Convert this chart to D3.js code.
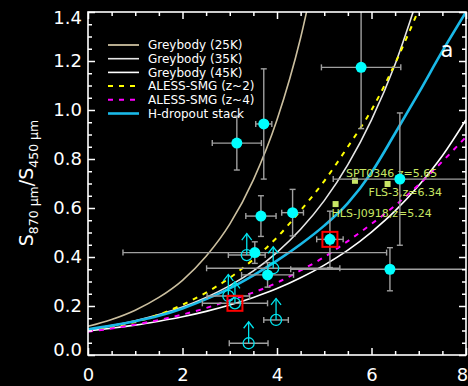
<!DOCTYPE html>
<html><head><meta charset="utf-8">
<script src="https://cdn.jsdelivr.net/npm/d3@7"></script>
<style>html,body{margin:0;padding:0;background:#000;} svg{display:block}</style>
</head><body><svg id="c" width="468" height="386"></svg>
<script>
// ---------------- data ----------------
const xTicks = [0, 2, 4, 6, 8];
const xTickLabels = ["0", "2", "4", "6", "8"];
const yTicks = [0, 0.2, 0.4, 0.6, 0.8, 1.0, 1.2, 1.4];
const yTickLabels = ["0.0", "0.2", "0.4", "0.6", "0.8", "1.0", "1.2", "1.4"];

const grey25X = [0, 0.5, 1, 1.5, 2, 2.5, 3, 3.5, 4, 4.5, 5];
const grey25Y = [0.117, 0.145, 0.183, 0.235, 0.305, 0.403, 0.534, 0.715, 0.96, 1.295, 1.75];
const grey35X = [0, 0.5, 1, 1.5, 2, 2.5, 3, 3.5, 4, 4.5, 5, 5.5, 6, 6.5, 7];
const grey35Y = [0.1045, 0.120, 0.140, 0.165, 0.196, 0.235, 0.283, 0.343, 0.419, 0.513, 0.630, 0.777, 0.960, 1.187, 1.471];
const grey45X = [0, 0.5, 1, 1.5, 2, 2.5, 3, 3.5, 4, 4.5, 5, 5.5, 6, 6.5, 7, 7.5, 8];
const grey45Y = [0.0986, 0.1095, 0.122, 0.138, 0.156, 0.178, 0.204, 0.235, 0.271, 0.315, 0.367, 0.428, 0.502, 0.588, 0.692, 0.813, 0.960];
const alessZ2X = [0, 0.5, 1, 1.5, 2, 2.5, 3, 3.5, 4, 4.5, 5, 5.5, 6, 6.5, 7];
const alessZ2Y = [0.10, 0.115, 0.135, 0.165, 0.205, 0.255, 0.315, 0.39, 0.48, 0.59, 0.71, 0.85, 1.0, 1.19, 1.41];
const alessZ4X = [0, 0.5, 1, 1.5, 2, 2.5, 3, 3.5, 4, 4.5, 5, 5.5, 6, 6.5, 7, 7.5, 8];
const alessZ4Y = [0.095, 0.108, 0.124, 0.143, 0.165, 0.192, 0.224, 0.255, 0.295, 0.345, 0.40, 0.465, 0.535, 0.61, 0.695, 0.79, 0.89];
const stackX = [0, 0.5, 1, 1.5, 2, 2.5, 3, 3.5, 4, 4.5, 5, 5.5, 6, 6.5, 7, 7.5, 8];
const stackY = [0.105, 0.12, 0.138, 0.16, 0.19, 0.228, 0.272, 0.325, 0.385, 0.452, 0.528, 0.62, 0.745, 0.905, 1.07, 1.24, 1.40];

// detections (filled circles)
const detX = [3.72, 3.15, 5.78, 6.60, 4.33, 3.66, 3.53, 3.80, 5.12, 6.39];
const detY = [0.943, 0.865, 1.174, 0.718, 0.581, 0.567, 0.418, 0.327, 0.472, 0.350];
const detXErr = [0.17, 0.52, 0.84, 1.41, 0.23, 0.32, 2.79, 0.55, 0.28, 2.10];
const detYErr = [0.225, 0.11, 0.25, 0.27, 0.095, 0.083, 0.044, 0.05, 0.115, 0.088];
const detBoxed = [false, false, false, false, false, false, false, false, true, false];

// lower limits (open circles with arrows)
const limX = [3.36, 3.92, 2.97, 3.11, 3.40, 3.98];
const limY = [0.408, 0.354, 0.241, 0.211, 0.048, 0.143];
const limXErr = [0.39, 1.41, 0.45, 0.69, 0.41, 0.26];
const limBoxed = [false, false, false, true, false, false];

// literature sources
const litX = [5.65, 6.34, 5.24];
const litY = [0.711, 0.698, 0.616];
const litLabels = ["SPT0346,z=5.65", "FLS-3,z=6.34", "HLS-J0918,z=5.24"];

const legendLabels = ["Greybody (25K)", "Greybody (35K)", "Greybody (45K)", "ALESS-SMG (z~2)", "ALESS-SMG (z~4)", "H-dropout stack"];

// ---------------- drawing ----------------
const W = 468, H = 386;
const FONT = "DejaVu Sans, Liberation Sans, sans-serif";
const svg = d3.select("#c");
svg.append("rect").attr("width", W).attr("height", H).attr("fill", "#000");

const x = d3.scaleLinear().domain([0, 8]).range([88, 466]);
const y = d3.scaleLinear().domain([0, 1.4]).range([355, 12]);

svg.append("clipPath").attr("id", "clip").append("rect")
  .attr("x", 88).attr("y", 12).attr("width", 378).attr("height", 343);

const plot = svg.append("g").attr("clip-path", "url(#clip)");

const series = [
  { xs: grey25X, ys: grey25Y, color: "#cbbf9f", w: 1.6, dash: null },
  { xs: grey35X, ys: grey35Y, color: "#e6e6e6", w: 1.6, dash: null },
  { xs: grey45X, ys: grey45Y, color: "#ffffff", w: 1.6, dash: null },
  { xs: alessZ2X, ys: alessZ2Y, color: "#ffff00", w: 2, dash: "5,6" },
  { xs: alessZ4X, ys: alessZ4Y, color: "#ff00ff", w: 2, dash: "5,6" },
  { xs: stackX, ys: stackY, color: "#1ab9e8", w: 2.6, dash: null }
];

const line = d3.line().x(d => x(d[0])).y(d => y(d[1])).curve(d3.curveMonotoneX);
series.forEach(s => {
  plot.append("path")
    .attr("d", line(s.xs.map((v, i) => [v, s.ys[i]])))
    .attr("fill", "none").attr("stroke", s.color).attr("stroke-width", s.w)
    .attr("stroke-dasharray", s.dash);
});

// literature squares + labels
const litDx = [-9, -19, -4], litDy = [-8, 8, 9];
litX.forEach((v, i) => {
  plot.append("rect").attr("x", x(v) - 3).attr("y", y(litY[i]) - 3)
    .attr("width", 6).attr("height", 6).attr("fill", "#c8e664");
  plot.append("text").attr("x", x(v) + litDx[i]).attr("y", y(litY[i]) + litDy[i])
    .attr("dy", "0.35em").attr("fill", "#c8e664")
    .attr("font-family", FONT).attr("font-size", 11).text(litLabels[i]);
});

const EB = "#a0a0a0", CAP = 3;
function hbar(g, cx, cy, e) {
  const x0 = x(cx - e), x1 = x(cx + e), py = y(cy);
  g.append("line").attr("x1", x0).attr("x2", x1).attr("y1", py).attr("y2", py);
  g.append("line").attr("x1", x0).attr("x2", x0).attr("y1", py - CAP).attr("y2", py + CAP);
  g.append("line").attr("x1", x1).attr("x2", x1).attr("y1", py - CAP).attr("y2", py + CAP);
}
function vbar(g, cx, cy, e) {
  const y0 = y(cy - e), y1 = y(cy + e), px = x(cx);
  g.append("line").attr("x1", px).attr("x2", px).attr("y1", y0).attr("y2", y1);
  g.append("line").attr("x1", px - CAP).attr("x2", px + CAP).attr("y1", y0).attr("y2", y0);
  g.append("line").attr("x1", px - CAP).attr("x2", px + CAP).attr("y1", y1).attr("y2", y1);
}

const eg = plot.append("g").attr("stroke", EB).attr("stroke-width", 1.4);
limX.forEach((v, i) => hbar(eg, v, limY[i], limXErr[i]));
detX.forEach((v, i) => { hbar(eg, v, detY[i], detXErr[i]); vbar(eg, v, detY[i], detYErr[i]); });

// lower limits
const lg = plot.append("g").attr("stroke", "#00e5f0").attr("stroke-width", 1.3).attr("fill", "none");
limX.forEach((v, i) => {
  const px = x(v), py = y(limY[i]);
  lg.append("circle").attr("cx", px).attr("cy", py).attr("r", 5.5);
  lg.append("line").attr("x1", px).attr("x2", px).attr("y1", py).attr("y2", py - 21.5);
  lg.append("polyline").attr("points", `${px - 5},${py - 15} ${px},${py - 21.5} ${px + 5},${py - 15}`);
  if (limBoxed[i]) {
    plot.append("rect").attr("x", px - 7.5).attr("y", py - 7.5).attr("width", 15).attr("height", 15)
      .attr("fill", "none").attr("stroke", "#ff0000").attr("stroke-width", 2);
  }
});

// detections
detX.forEach((v, i) => {
  const px = x(v), py = y(detY[i]);
  if (detBoxed[i]) {
    plot.append("rect").attr("x", px - 7.5).attr("y", py - 7.5).attr("width", 15).attr("height", 15)
      .attr("fill", "none").attr("stroke", "#ff0000").attr("stroke-width", 2);
  }
  plot.append("circle").attr("cx", px).attr("cy", py).attr("r", 5.5).attr("fill", "#00ffff");
});

// axes
function styleAxis(g) {
  g.select(".domain").remove();
  g.selectAll(".tick line").attr("stroke", "#fff").attr("stroke-width", 1.5);
  g.selectAll(".tick text").attr("fill", "#fff").attr("font-family", FONT).attr("font-size", 18);
}
const xMinor = d3.range(0, 8.01, 0.5).filter(v => Math.abs(v % 2) > 1e-6);
const yMinor = d3.range(0, 1.401, 0.05).map(v => +v.toFixed(2)).filter(v => Math.abs((v * 100) % 20) > 1e-6);

const xAx = svg.append("g").attr("transform", "translate(0,355)")
  .call(d3.axisBottom(x).tickValues(xTicks).tickFormat((d, i) => xTickLabels[i]).tickSizeInner(-7).tickSizeOuter(0).tickPadding(13.5))
  .call(styleAxis);
xAx.selectAll(".tick text").attr("transform", d => d === 8 ? "translate(-4,0)" : null);
svg.append("g").attr("transform", "translate(0,355)")
  .call(d3.axisBottom(x).tickValues(xMinor).tickFormat("").tickSizeInner(-4).tickSizeOuter(0)).call(styleAxis);
svg.append("g").attr("transform", "translate(0,12)")
  .call(d3.axisTop(x).tickValues(xTicks).tickFormat("").tickSizeInner(-7).tickSizeOuter(0)).call(styleAxis);
svg.append("g").attr("transform", "translate(0,12)")
  .call(d3.axisTop(x).tickValues(xMinor).tickFormat("").tickSizeInner(-4).tickSizeOuter(0)).call(styleAxis);

const yAx = svg.append("g").attr("transform", "translate(88,0)")
  .call(d3.axisLeft(y).tickValues(yTicks).tickFormat((d, i) => yTickLabels[i]).tickSizeInner(-7).tickSizeOuter(0).tickPadding(6))
  .call(styleAxis);
yAx.selectAll(".tick text").attr("transform", d => d === 1.4 ? "translate(0,6)" : (d === 0 ? "translate(0,-5)" : null));
svg.append("g").attr("transform", "translate(88,0)")
  .call(d3.axisLeft(y).tickValues(yMinor).tickFormat("").tickSizeInner(-4).tickSizeOuter(0)).call(styleAxis);
svg.append("g").attr("transform", "translate(466,0)")
  .call(d3.axisRight(y).tickValues(yTicks).tickFormat("").tickSizeInner(-7).tickSizeOuter(0)).call(styleAxis);
svg.append("g").attr("transform", "translate(466,0)")
  .call(d3.axisRight(y).tickValues(yMinor).tickFormat("").tickSizeInner(-4).tickSizeOuter(0)).call(styleAxis);

svg.append("rect").attr("x", 88).attr("y", 12).attr("width", 378).attr("height", 343)
  .attr("fill", "none").attr("stroke", "#fff").attr("stroke-width", 1.6);

// y axis title
const yt = svg.append("text").attr("transform", "translate(33,183) rotate(-90)")
  .attr("text-anchor", "middle").attr("fill", "#fff").attr("font-family", FONT).attr("font-size", 19);
yt.append("tspan").text("S");
yt.append("tspan").attr("font-size", 12.5).attr("dy", 5).text("870 \u03bcm");
yt.append("tspan").attr("dy", -5).text("/S");
yt.append("tspan").attr("font-size", 12.5).attr("dy", 5).text("450 \u03bcm");

// panel letter
svg.append("text").attr("x", 447).attr("y", 50).attr("dy", "0.35em").attr("text-anchor", "middle")
  .attr("fill", "#fff").attr("font-family", FONT).attr("font-size", 21).text("a");

// legend
const legColors = ["#cbbf9f", "#e6e6e6", "#ffffff", "#ffff00", "#ff00ff", "#1ab9e8"];
const legDash = [null, null, null, "5,6", "5,6", null];
const legW = [1.8, 1.6, 1.6, 2, 2, 2.6];
legendLabels.forEach((t, i) => {
  const ly = 45 + i * 13.7;
  svg.append("line").attr("x1", 108).attr("x2", 139).attr("y1", ly).attr("y2", ly)
    .attr("stroke", legColors[i]).attr("stroke-width", legW[i]).attr("stroke-dasharray", legDash[i]);
  svg.append("text").attr("x", 148).attr("y", ly).attr("dy", "0.35em").attr("fill", "#fff")
    .attr("font-family", FONT).attr("font-size", 12).text(t);
});
</script></body></html>
